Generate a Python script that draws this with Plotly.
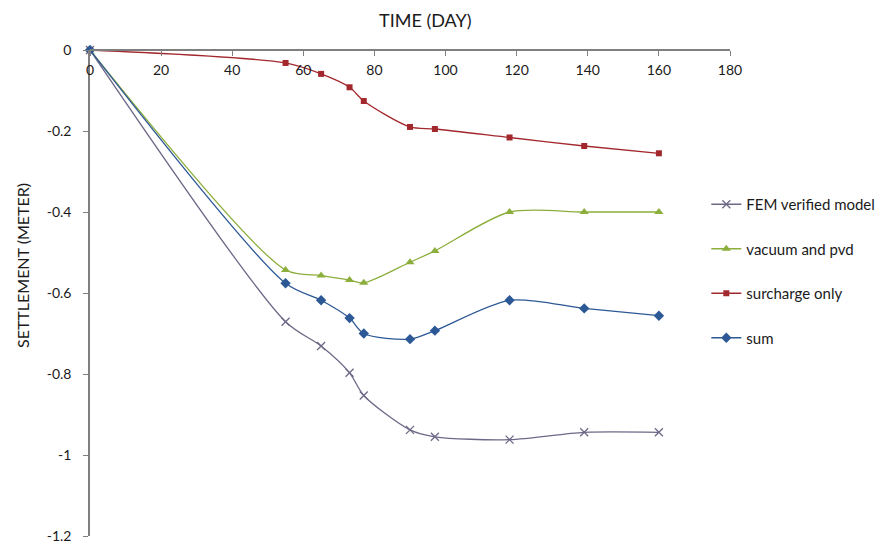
import plotly.graph_objects as go

days = [0, 55, 65, 73, 77, 90, 97, 118, 139, 160]
fem = [0, -0.671, -0.731, -0.797, -0.853, -0.938, -0.955, -0.962, -0.944, -0.944]
vacuum = [0, -0.543, -0.557, -0.568, -0.575, -0.524, -0.496, -0.400, -0.400, -0.400]
surcharge = [0, -0.032, -0.059, -0.092, -0.126, -0.190, -0.195, -0.216, -0.237, -0.255]
total = [0, -0.576, -0.618, -0.662, -0.700, -0.714, -0.693, -0.618, -0.638, -0.656]

x_ticks = [0, 20, 40, 60, 80, 100, 120, 140, 160, 180]
y_ticks = [0, -0.2, -0.4, -0.6, -0.8, -1, -1.2]
y_ticktext = ["0", "-0.2", "-0.4", "-0.6", "-0.8", "-1", "-1.2"]

FONT = "Lato, Open Sans, sans-serif"
TXT = "#1a1a1a"

series = [
    ("FEM verified model", fem, "#6E6887", dict(symbol="x-thin", size=8, line=dict(width=1.3, color="#6E6887"))),
    ("vacuum and pvd", vacuum, "#8CAE3C", dict(symbol="triangle-up", size=8)),
    ("surcharge only", surcharge, "#A3282D", dict(symbol="square", size=6)),
    ("sum", total, "#2C5896", dict(symbol="diamond", size=8)),
]

fig = go.Figure()
for i, (name, vals, color, mk) in enumerate(series):
    mk = dict(mk)
    mk["color"] = color
    fig.add_trace(go.Scatter(
        x=days, y=vals, name=name, mode="lines+markers",
        line=dict(color=color, width=1.3, shape="spline", smoothing=0.8),
        marker=mk, legendgroup=f"g{i}", cliponaxis=False,
    ))

fig.update_layout(
    width=887, height=550,
    margin=dict(l=82, r=165, t=42, b=22),
    paper_bgcolor="white", plot_bgcolor="white",
    font=dict(family=FONT, size=14, color=TXT),
    showlegend=True,
    legend=dict(
        x=0.963, xanchor="left", y=0.716, yanchor="top",
        tracegroupgap=22, itemwidth=30,
        font=dict(family=FONT, size=15, color=TXT),
        bgcolor="rgba(0,0,0,0)",
    ),
    xaxis=dict(
        range=[0, 180], side="bottom", anchor="free", position=1.0,
        tickvals=x_ticks, ticks="outside", ticklen=5, tickcolor="#7f7f7f",
        showline=True, linecolor="#7f7f7f", ticklabelstandoff=2,
        linewidth=1.5, showgrid=False, zeroline=False,
        tickfont=dict(size=14), automargin=False,
    ),
    yaxis=dict(
        range=[-1.2, 0], tickvals=y_ticks, ticktext=y_ticktext,
        ticks="outside", ticklen=5, tickcolor="#7f7f7f",
        showline=True, linecolor="#7f7f7f", linewidth=1.5,
        ticklabelstandoff=9,
        showgrid=False, zeroline=False, tickfont=dict(size=14),
        automargin=False,
    ),
    annotations=[
        dict(text="TIME (DAY)", xref="paper", yref="paper",
             x=(425 - 90) / 640, y=1 + (50 - 20) / 486, showarrow=False,
             xanchor="center", yanchor="middle",
             font=dict(size=18, family=FONT, color=TXT)),
        dict(text="SETTLEMENT (METER)", xref="paper", yref="paper",
             x=(22 - 90) / 640, y=1 - (266 - 50) / 486, showarrow=False,
             xanchor="center", yanchor="middle",
             textangle=-90, font=dict(size=16, family=FONT, color=TXT)),
    ],
)

fig.write_html("out.html")
